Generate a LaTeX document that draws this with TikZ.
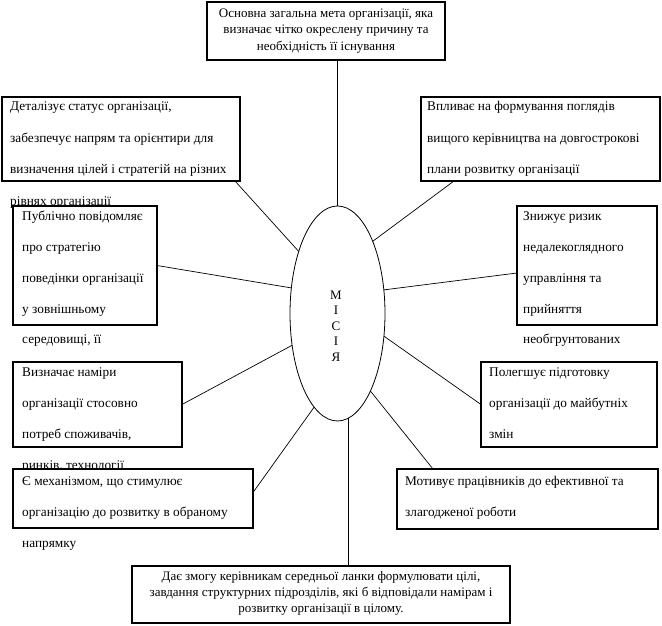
\documentclass[tikz,border=0pt]{standalone}
\usepackage{fontspec}
\setmainfont{Liberation Serif}
\usetikzlibrary{shapes.geometric}
\begin{document}
\begin{tikzpicture}[x=1pt,y=-1pt,
 box/.style={draw, fill=white, rectangle, inner sep=0pt, outer sep=0pt, line width=1.2pt, anchor=north west},
 ln/.style={anchor=mid west, inner sep=0pt, font=\fontsize{13.3}{15}\selectfont},
 cl/.style={anchor=mid, inner sep=0pt, font=\fontsize{13}{15}\selectfont},
 conn/.style={draw, line width=0.7pt}]
\useasboundingbox (0,0) rectangle (662,626);

% ellipse
\node[draw, ellipse, minimum width=95pt, minimum height=215pt, inner sep=0pt, outer sep=0pt, line width=0.8pt] (ell) at (337.5,313.5) {};
\node[inner sep=0pt, align=center, font=\fontsize{13}{15.5}\selectfont] (mis) at (336,326) {М\\І\\С\\І\\Я};

% top box
\node[box, minimum width=238pt, minimum height=58pt] (b1) at (207,2) {};
\node[cl] (t1a) at (326,15) {Основна загальна мета організації, яка};
\node[cl] (t1b) at (326,31.5) {визначає чітко окреслену причину та};
\node[cl] (t1c) at (326,48) {необхідність її існування};

% upper left
\node[box, minimum width=238pt, minimum height=84pt] (b2) at (2,97) {};
\node[ln] (t2a) at (10,108) {Деталізує статус організації,};
\node[ln] (t2b) at (10,140) {забезпечує напрям та орієнтири для};
\node[ln] (t2c) at (10,171.5) {визначення цілей і стратегій на різних};
\node[ln] (t2d) at (10,203) {рівнях організації};

% upper right
\node[box, minimum width=239pt, minimum height=84pt] (b3) at (421,97) {};
\node[ln] (t3a) at (427,108) {Впливає на формування поглядів};
\node[ln] (t3b) at (427,140) {вищого керівництва на довгострокові};
\node[ln] (t3c) at (427,171.5) {плани розвитку організації};

% left 2
\node[box, minimum width=144pt, minimum height=119pt] (b4) at (13,206) {};
\node[ln] (t4a) at (22,218) {Публічно повідомляє};
\node[ln] (t4b) at (22,249) {про стратегію};
\node[ln] (t4c) at (22,280) {поведінки організації};
\node[ln] (t4d) at (22,311) {у зовнішньому};
\node[ln] (t4e) at (22,341) {середовищі, її};

% right 2
\node[box, minimum width=140pt, minimum height=119pt] (b5) at (517,206) {};
\node[ln] (t5a) at (523,218) {Знижує ризик};
\node[ln] (t5b) at (523,249) {недалекоглядного};
\node[ln] (t5c) at (523,280) {управління та};
\node[ln] (t5d) at (523,311) {прийняття};
\node[ln] (t5e) at (523,341) {необгрунтованих};

% left 3
\node[box, minimum width=169pt, minimum height=85pt] (b6) at (13,362) {};
\node[ln] (t6a) at (22,374) {Визначає наміри};
\node[ln] (t6b) at (22,405) {організації стосовно};
\node[ln] (t6c) at (22,436) {потреб споживачів,};
\node[ln] (t6d) at (22,467) {ринків, технології};

% right 3
\node[box, minimum width=176pt, minimum height=85pt] (b7) at (481,362) {};
\node[ln] (t7a) at (489,374) {Полегшує підготовку};
\node[ln] (t7b) at (489,405) {організації до майбутніх};
\node[ln] (t7c) at (489,436) {змін};

% left 4
\node[box, minimum width=240pt, minimum height=59pt] (b8) at (13,469) {};
\node[ln] (t8a) at (22,483) {Є механізмом, що стимулює};
\node[ln] (t8b) at (22,514) {організацію до розвитку в обраному};
\node[ln] (t8c) at (22,545) {напрямку};

% right 4
\node[box, minimum width=261pt, minimum height=60pt] (b9) at (397,469) {};
\node[ln] (t9a) at (405,483) {Мотивує працівників до ефективної та};
\node[ln] (t9b) at (405,514) {злагодженої роботи};

% bottom
\node[box, minimum width=378pt, minimum height=57pt] (b10) at (132,566) {};
\node[cl] (t10a) at (321,578) {Дає змогу керівникам середньої ланки формулювати цілі,};
\node[cl] (t10b) at (321,594) {завдання структурних підрозділів, які б відповідали намірам і};
\node[cl] (t10c) at (321,610) {розвитку організації в цілому.};

% connectors
\draw[conn] (ell.north) -- (ell.north |- b1.south);
\draw[conn] ([xshift=-5pt]b2.south east) -- (ell.122);
\draw[conn] ([xshift=33pt]b3.south west) -- (ell.64);
\draw[conn] (b4.east) -- (ell.151);
\draw[conn] (ell.27) -- ([yshift=-7.5pt]b5.west);
\draw[conn] (b6.east) -- (ell.215);
\draw[conn] (ell.334) -- (b7.west);
\draw[conn] ([yshift=6pt]b8.east) -- (ell.256);
\draw[conn] ([xshift=36pt]b9.north west) -- (ell.293);
\draw[conn] (ell.276) -- (ell.276 |- b10.north);
\end{tikzpicture}
\end{document}
